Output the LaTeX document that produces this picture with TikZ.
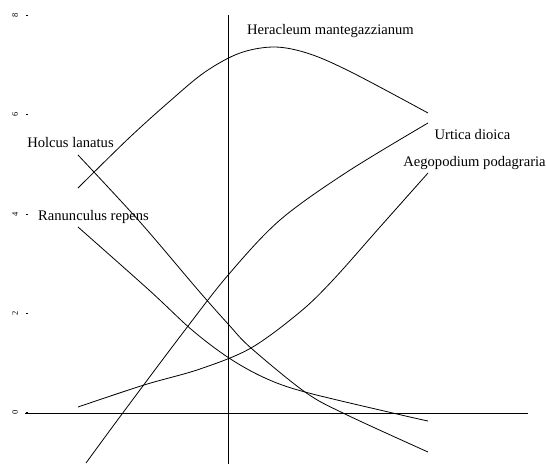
\documentclass[tikz,border=0pt]{standalone}
\usepackage{fontspec}
\setmainfont{Liberation Serif}
\usetikzlibrary{positioning}

\tikzset{
  curve/.style={line width=0.8pt, line join=round},
  species/.style={inner sep=0pt, font=\fontsize{14.6}{17}\selectfont},
  ticklabel/.style={rotate=90, inner sep=0pt, font=\fontsize{8.5}{10}\selectfont}
}

\begin{document}
\begin{tikzpicture}[x=1pt,y=-1pt]
	\useasboundingbox (0,0) rectangle (546,464);
	% axes
	\draw[line width=0.9pt] (25,413) -- (528,413);
	\draw[line width=0.9pt] (228.5,15) -- (228.5,464);
	% ticks
	\foreach \v/\y in {0/412,2/313,4/214,6/114,8/15} {
		\draw[line width=0.8pt] (25.5,\y) -- (28,\y);
		\node[ticklabel] (t\v) at (15,\y) {\v};
	}
	% response curves
	\draw[curve] plot[smooth, tension=0.55] coordinates {(78,188) (129,138) (170,101) (205,72) (240,53) (275,47) (310,54) (353,73) (428,113)};
	\draw[curve] plot[smooth, tension=0.55] coordinates {(86,463) (122,414) (185,330) (229,274) (280,220) (347,172) (428,123)};
	\draw[curve] plot[smooth, tension=0.55] coordinates {(78,407) (144,385) (200,369) (251,348) (300,312) (333,280) (380,227) (428,173)};
	\draw[curve] plot[smooth, tension=0.55] coordinates {(78,155) (140,222) (198,290) (229,325) (251,348) (305,392) (345,414) (428,452)};
	\draw[curve] plot[smooth, tension=0.55] coordinates {(78,227) (149,290) (192,330) (229,358) (265,378) (305,392) (397,414) (428,421)};
	% labels
	\node[species] (her) at (330.5,31) {Heracleum mantegazzianum};
	\node[species] (urt) at (472.5,135) {Urtica dioica};
	\node[species] (aeg) at (474.5,163) {Aegopodium podagraria};
	\node[species] (hol) at (70.5,143) {Holcus lanatus};
	\node[species] (ran) at (93.5,217) {Ranunculus repens};
\end{tikzpicture}
\end{document}
